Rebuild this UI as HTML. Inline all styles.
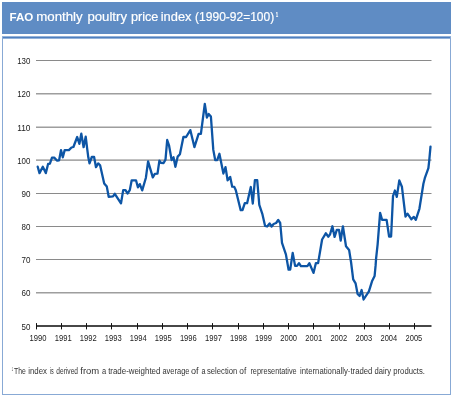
<!DOCTYPE html>
<html><head><meta charset="utf-8"><style>
html,body{margin:0;padding:0;background:#fff;width:453px;height:397px;overflow:hidden}
svg{display:block;will-change:transform}
text{font-family:"Liberation Sans",sans-serif}
.g{stroke:#8a8a8a;stroke-width:1.25}
.ax{stroke:#474747;stroke-width:2}
.tk{stroke:#111;stroke-width:1}
</style></head><body>
<svg width="453" height="397" viewBox="0 0 453 397">
<rect x="2" y="2" width="449" height="32" fill="#5f8cc4"/>
<rect x="2" y="36.4" width="449" height="2.2" fill="#4f80c0"/>
<rect x="2" y="37" width="1" height="358" fill="#88a9d5"/>
<rect x="450" y="37" width="1" height="358" fill="#88a9d5"/>
<rect x="2" y="394" width="449" height="1" fill="#88a9d5"/>
<rect x="36" y="60.000" width="395.5" height="1.0" fill="#8a8a8a"/>
<rect x="36" y="93.175" width="395.5" height="1.25" fill="#8a8a8a"/>
<rect x="36" y="126.575" width="395.5" height="1.25" fill="#8a8a8a"/>
<rect x="36" y="159.475" width="395.5" height="1.25" fill="#8a8a8a"/>
<rect x="36" y="193.000" width="395.5" height="1.0" fill="#8a8a8a"/>
<rect x="36" y="226.000" width="395.5" height="1.0" fill="#8a8a8a"/>
<rect x="36" y="259.000" width="395.5" height="1.0" fill="#8a8a8a"/>
<rect x="36" y="292.175" width="395.5" height="1.25" fill="#8a8a8a"/>
<line x1="36" y1="326" x2="431.5" y2="326" class="ax"/>
<line x1="36.50" y1="323.1" x2="36.50" y2="329.4" class="tk"/>
<line x1="61.50" y1="323.1" x2="61.50" y2="329.4" class="tk"/>
<line x1="86.50" y1="323.1" x2="86.50" y2="329.4" class="tk"/>
<line x1="111.50" y1="323.1" x2="111.50" y2="329.4" class="tk"/>
<line x1="137.50" y1="323.1" x2="137.50" y2="329.4" class="tk"/>
<line x1="162.50" y1="323.1" x2="162.50" y2="329.4" class="tk"/>
<line x1="187.50" y1="323.1" x2="187.50" y2="329.4" class="tk"/>
<line x1="212.50" y1="323.1" x2="212.50" y2="329.4" class="tk"/>
<line x1="238.50" y1="323.1" x2="238.50" y2="329.4" class="tk"/>
<line x1="263.50" y1="323.1" x2="263.50" y2="329.4" class="tk"/>
<line x1="288.50" y1="323.1" x2="288.50" y2="329.4" class="tk"/>
<line x1="313.50" y1="323.1" x2="313.50" y2="329.4" class="tk"/>
<line x1="339.50" y1="323.1" x2="339.50" y2="329.4" class="tk"/>
<line x1="364.50" y1="323.1" x2="364.50" y2="329.4" class="tk"/>
<line x1="389.50" y1="323.1" x2="389.50" y2="329.4" class="tk"/>
<line x1="414.50" y1="323.1" x2="414.50" y2="329.4" class="tk"/>

<polyline transform="translate(0,0.3)" points="37.7,166.4 39.5,172.8 42.8,166.4 45.8,172.8 48.1,163.7 49.9,163.4 52.0,157.4 54.2,157.3 57.2,160.4 59.1,160.0 61.0,149.8 62.8,157.0 64.7,149.8 68.9,149.8 71.5,147.2 73.4,146.7 77.2,136.7 79.4,143.5 81.3,133.3 83.6,146.9 85.7,136.3 87.2,148.5 88.3,157.0 89.5,163.1 91.8,156.7 94.1,156.7 96.0,166.9 98.2,163.1 100.1,165.0 104.2,183.2 106.8,186.3 108.7,196.5 113.0,196.1 114.8,193.5 121.0,203.1 123.2,189.8 125.5,189.8 127.5,193.2 129.8,189.8 131.7,180.0 136.0,180.0 137.9,187.0 139.8,183.8 142.2,190.1 145.9,177.4 148.1,161.1 152.8,177.0 154.8,173.6 157.5,173.4 159.4,160.4 160.8,162.5 163.6,162.7 165.5,159.3 167.2,139.7 169.1,145.4 171.6,159.7 173.5,157.0 175.4,166.5 177.7,156.3 179.9,154.0 183.4,136.7 186.1,136.7 190.3,129.8 194.4,146.8 198.6,133.6 200.9,133.6 204.8,103.7 206.9,117.2 208.7,113.7 210.9,116.2 213.3,149.6 215.2,159.7 217.2,159.8 219.4,153.5 223.4,173.2 225.5,166.8 227.6,180.0 230.2,176.6 232.2,186.4 234.3,186.6 235.8,190.0 240.7,209.9 242.5,209.9 244.8,202.9 247.1,202.9 250.8,186.7 252.8,203.2 254.9,179.9 257.2,179.9 259.3,204.5 262.3,213.5 265.1,225.7 267.1,226.2 269.6,223.2 271.6,226.2 273.6,223.7 276.1,222.7 278.2,219.7 280.2,222.7 282.0,242.6 285.9,254.1 288.6,269.4 290.2,269.4 292.7,252.6 295.1,265.6 297.0,265.6 299.0,262.9 300.9,265.8 307.4,265.8 309.4,262.9 313.5,272.6 315.9,262.8 318.1,262.8 322.1,239.2 325.8,233.0 328.4,236.4 330.1,234.0 332.4,226.0 334.6,236.6 336.8,229.6 339.0,229.6 340.7,240.2 342.9,226.0 346.0,246.0 349.1,249.6 351.1,262.2 353.2,279.1 355.6,283.1 357.6,293.7 359.6,295.7 361.6,289.7 363.6,299.2 368.9,291.0 372.0,281.0 374.6,275.7 375.6,265.1 376.1,258.1 377.6,244.3 380.1,212.6 382.1,219.6 386.6,219.6 389.1,236.2 391.1,236.2 393.0,195.9 394.9,190.2 396.8,196.5 399.3,180.1 401.9,186.4 405.5,216.3 407.5,213.4 411.4,219.0 413.8,216.6 415.8,219.6 419.4,208.5 423.4,183.5 424.8,177.9 428.4,167.8 429.2,160.5 430.5,146.4" fill="none" stroke="#0d55a5" stroke-width="2.3" stroke-linejoin="round" stroke-linecap="round"/>
<text transform="translate(9.488,20.700) scale(0.9998,1)" font-size="11.6" font-weight="bold" fill="#ffffff">FAO</text>
<text transform="translate(36.169,20.700) scale(1.1079,1)" font-size="12" font-weight="normal" fill="#ffffff" stroke="#ffffff" stroke-width="0.18">monthly</text>
<text transform="translate(87.375,20.700) scale(1.1007,1)" font-size="12" font-weight="normal" fill="#ffffff" stroke="#ffffff" stroke-width="0.18">poultry</text>
<text transform="translate(130.912,20.700) scale(1.0569,1)" font-size="12" font-weight="normal" fill="#ffffff" stroke="#ffffff" stroke-width="0.18">price</text>
<text transform="translate(160.697,20.700) scale(1.0750,1)" font-size="12" font-weight="normal" fill="#ffffff" stroke="#ffffff" stroke-width="0.18">index</text>
<text transform="translate(195.079,20.700) scale(1.0105,1)" font-size="11.9" font-weight="normal" fill="#ffffff" stroke="#ffffff" stroke-width="0.18">(1990-92=100)</text>
<text transform="translate(275.747,16.900) scale(0.6695,1)" font-size="6.6" font-weight="normal" fill="#ffffff" stroke="#ffffff" stroke-width="0.25">1</text>
<text transform="translate(17.165,64.150) scale(0.9227,1)" font-size="8.6" font-weight="normal" fill="#222222">130</text>
<text transform="translate(17.165,97.340) scale(0.9227,1)" font-size="8.6" font-weight="normal" fill="#222222">120</text>
<text transform="translate(17.131,130.530) scale(0.9729,1)" font-size="8.6" font-weight="normal" fill="#222222">110</text>
<text transform="translate(17.165,163.720) scale(0.9227,1)" font-size="8.6" font-weight="normal" fill="#222222">100</text>
<text transform="translate(21.498,196.910) scale(0.9348,1)" font-size="8.6" font-weight="normal" fill="#222222">90</text>
<text transform="translate(21.582,230.100) scale(0.9257,1)" font-size="8.6" font-weight="normal" fill="#222222">80</text>
<text transform="translate(21.498,263.290) scale(0.9348,1)" font-size="8.6" font-weight="normal" fill="#222222">70</text>
<text transform="translate(21.498,296.480) scale(0.9348,1)" font-size="8.6" font-weight="normal" fill="#222222">60</text>
<text transform="translate(21.582,329.670) scale(0.9257,1)" font-size="8.6" font-weight="normal" fill="#222222">50</text>
<text transform="translate(29.590,340.600) scale(0.8658,1)" font-size="8.8" font-weight="normal" fill="#222222">1990</text>
<text transform="translate(54.638,340.600) scale(0.8699,1)" font-size="8.8" font-weight="normal" fill="#222222">1991</text>
<text transform="translate(79.688,340.600) scale(0.8699,1)" font-size="8.8" font-weight="normal" fill="#222222">1992</text>
<text transform="translate(104.740,340.600) scale(0.8658,1)" font-size="8.8" font-weight="normal" fill="#222222">1993</text>
<text transform="translate(129.793,340.600) scale(0.8617,1)" font-size="8.8" font-weight="normal" fill="#222222">1994</text>
<text transform="translate(154.840,340.600) scale(0.8658,1)" font-size="8.8" font-weight="normal" fill="#222222">1995</text>
<text transform="translate(179.890,340.600) scale(0.8658,1)" font-size="8.8" font-weight="normal" fill="#222222">1996</text>
<text transform="translate(204.938,340.600) scale(0.8699,1)" font-size="8.8" font-weight="normal" fill="#222222">1997</text>
<text transform="translate(229.990,340.600) scale(0.8658,1)" font-size="8.8" font-weight="normal" fill="#222222">1998</text>
<text transform="translate(255.040,340.600) scale(0.8658,1)" font-size="8.8" font-weight="normal" fill="#222222">1999</text>
<text transform="translate(280.324,340.600) scale(0.8536,1)" font-size="8.8" font-weight="normal" fill="#222222">2000</text>
<text transform="translate(305.373,340.600) scale(0.8576,1)" font-size="8.8" font-weight="normal" fill="#222222">2001</text>
<text transform="translate(330.423,340.600) scale(0.8576,1)" font-size="8.8" font-weight="normal" fill="#222222">2002</text>
<text transform="translate(355.474,340.600) scale(0.8536,1)" font-size="8.8" font-weight="normal" fill="#222222">2003</text>
<text transform="translate(380.526,340.600) scale(0.8496,1)" font-size="8.8" font-weight="normal" fill="#222222">2004</text>
<text transform="translate(405.574,340.600) scale(0.8536,1)" font-size="8.8" font-weight="normal" fill="#222222">2005</text>
<text transform="translate(14.064,374.300) scale(0.8201,1)" font-size="8.3" font-weight="normal" fill="#333333">The</text>
<text transform="translate(28.248,374.300) scale(0.9493,1)" font-size="8.3" font-weight="normal" fill="#333333">index</text>
<text transform="translate(49.927,374.300) scale(0.6413,1)" font-size="8.3" font-weight="normal" fill="#333333">is</text>
<text transform="translate(56.335,374.300) scale(0.7981,1)" font-size="8.3" font-weight="normal" fill="#333333">derived</text>
<text transform="translate(80.305,374.300) scale(1.1421,1)" font-size="8.3" font-weight="normal" fill="#333333">from</text>
<text transform="translate(101.900,374.300) scale(0.9036,1)" font-size="8.3" font-weight="normal" fill="#333333">a</text>
<text transform="translate(108.142,374.300) scale(0.9520,1)" font-size="8.3" font-weight="normal" fill="#333333">trade-weighted</text>
<text transform="translate(162.400,374.300) scale(0.9045,1)" font-size="8.3" font-weight="normal" fill="#333333">average</text>
<text transform="translate(191.035,374.300) scale(1.0981,1)" font-size="8.3" font-weight="normal" fill="#333333">of</text>
<text transform="translate(201.408,374.300) scale(0.8804,1)" font-size="8.3" font-weight="normal" fill="#333333">a</text>
<text transform="translate(206.969,374.300) scale(0.9263,1)" font-size="8.3" font-weight="normal" fill="#333333">selection</text>
<text transform="translate(239.366,374.300) scale(1.0066,1)" font-size="8.3" font-weight="normal" fill="#333333">of</text>
<text transform="translate(250.388,374.300) scale(0.8813,1)" font-size="8.3" font-weight="normal" fill="#333333">representative</text>
<text transform="translate(300.057,374.300) scale(0.9350,1)" font-size="8.3" font-weight="normal" fill="#333333">internationally-traded</text>
<text transform="translate(374.494,374.300) scale(0.9207,1)" font-size="8.3" font-weight="normal" fill="#333333">dairy</text>
<text transform="translate(393.261,374.300) scale(0.9273,1)" font-size="8.3" font-weight="normal" fill="#333333">products.</text>
<text transform="translate(11.833,370.800) scale(0.4186,1)" font-size="5" font-weight="normal" fill="#2a2a2a">1</text>

</svg>
</body></html>
